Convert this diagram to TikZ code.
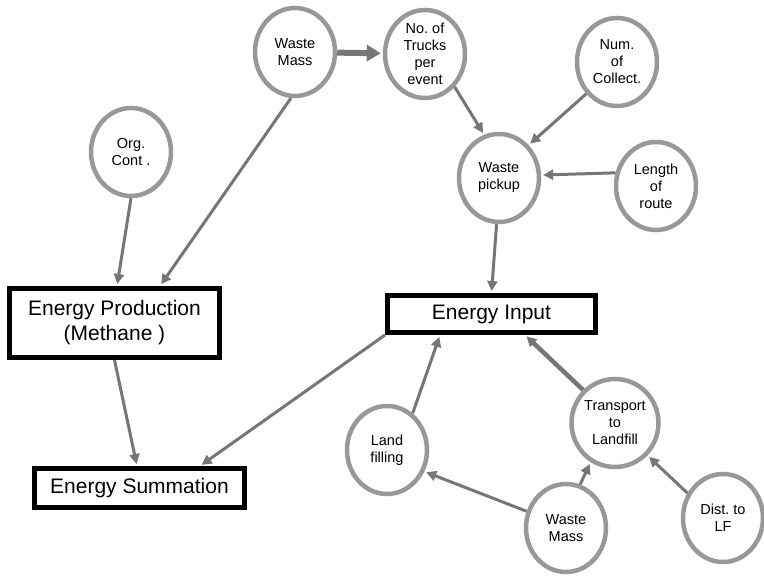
\documentclass[tikz,border=0pt]{standalone}
\usepackage{fontspec}
\setmainfont{Liberation Sans}
\usetikzlibrary{shapes.geometric,arrows.meta}
\definecolor{cborder}{RGB}{152,152,152}
\definecolor{lcol}{RGB}{118,118,118}
\frenchspacing
\begin{document}
\begin{tikzpicture}[x=1pt,y=-1pt,
  var/.style={ellipse, draw=cborder, line width=4.5pt, fill=white, minimum width=80pt, minimum height=88pt, inner sep=0pt, align=center, font=\fontsize{14.5}{17}\selectfont},
  blk/.style={rectangle, draw=black, line width=5pt, fill=white, align=center, font=\fontsize{21}{25}\selectfont, inner sep=0pt},
  link/.style={draw=lcol, line width=3pt, shorten >=2pt, -{Triangle[length=10pt,width=10pt]}},
]
\useasboundingbox (0,0) rectangle (764,577);
\node[var] (wm1) at (295,52) {Waste\\Mass};
\node[var] (trucks) at (425,54) {No. of\\Trucks\\per\\event};
\node[var] (collect) at (617,62) {Num.\\of\\Collect.};
\node[var] (org) at (131,152) {Org.\\Cont .};
\node[var] (pickup) at (499,178) {Waste\\pickup};
\node[var] (route) at (656,186) {Length\\of\\route};
\node[blk, minimum width=210pt, minimum height=69pt] (ep) at (114.5,323) {Energy Production\\(Methane )};
\node[blk, minimum width=208pt, minimum height=37pt] (ei) at (491.5,314) {Energy Input};
\node[blk, minimum width=210pt, minimum height=39pt] (es) at (139.5,488) {Energy Summation};
\node[var] (landf) at (387,450) {Land\\filling};
\node[var] (transp) at (615,423) {Transport\\to\\Landfill};
\node[var] (wm2) at (566,528) {Waste\\Mass};
\node[var] (dist) at (723,518) {Dist. to\\LF};
\draw[link, line width=6pt, -{Triangle[length=14pt,width=16pt]}] (wm1) -- (trucks);
\draw[link] (wm1.-95) -- ([xshift=45.5pt]ep.north);
\draw[link] (org.-90) -- ([xshift=2.5pt]ep.north);
\draw[link] (trucks.-48) -- (pickup.109);
\draw[link] (collect.-134) -- (pickup.48);
\draw[link] (route.162) -- (pickup.4);
\draw[link] (pickup.-93) -- (ei.north);
\draw[link] (ep.south) -- ([xshift=-2.5pt]es.north);
\draw[link] (ei.south west) -- ([xshift=60.5pt]es.north);
\draw[link] (landf.55) -- ([xshift=-51.5pt]ei.south);
\draw[link, line width=4.5pt] (transp.134) -- ([xshift=33.5pt]ei.south);
\draw[link] (wm2.157) -- (landf.-30);
\draw[link] (wm2.72) -- (transp.-122);
\draw[link] (dist.145) -- (transp.-45);
\end{tikzpicture}
\end{document}
